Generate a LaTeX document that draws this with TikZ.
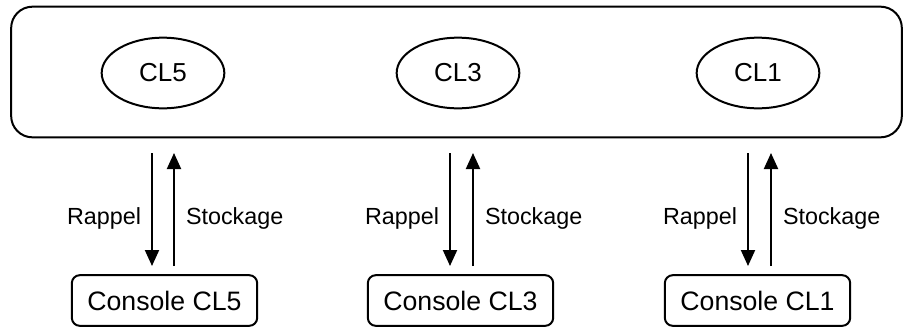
\documentclass[tikz,border=0pt]{standalone}
\usepackage{fontspec}
\setmainfont{Liberation Sans}
\usetikzlibrary{arrows.meta,shapes.geometric}
\begin{document}
\begin{tikzpicture}[x=0.75pt,y=-0.75pt,
  line width=1.5pt,
  outer/.style={draw,rectangle,rounded corners=16pt,minimum width=668pt,minimum height=98pt,inner sep=0pt},
  reg/.style={draw,ellipse,minimum width=92pt,minimum height=53pt,inner sep=0pt,font=\fontsize{19.5}{23}\selectfont},
  cons/.style={draw,rectangle,rounded corners=6pt,minimum width=139pt,minimum height=38pt,inner sep=0pt,font=\fontsize{20}{24}\selectfont},
  lbl/.style={font=\fontsize{17.5}{21}\selectfont,inner sep=0pt},
  arr/.style={-{Triangle[length=12pt,width=10.5pt]},line width=1.5pt}]
\useasboundingbox (0,0) rectangle (904,329);
\node[outer] (main) at (456.5,72) {};
\node[reg] (r5) at (163,73) {CL5};
\node[reg] (r3) at (458,73) {CL3};
\node[reg] (r1) at (758,73) {CL1};
\node[cons] (c5) at (164.5,300.5) {Console CL5};
\node[cons] (c3) at (460.5,300.5) {Console CL3};
\node[cons] (c1) at (757.5,300.5) {Console CL1};
\foreach \n/\d/\u in {5/152/174, 3/450/473, 1/748/771}{
  \coordinate (dt\n) at (\d,153);
  \coordinate (db\n) at (\d,266);
  \coordinate (ut\n) at (\u,153);
  \coordinate (ub\n) at (\u,266);
  \draw[arr] (dt\n) -- (db\n);
  \draw[arr] (ub\n) -- (ut\n);
  \node[lbl,anchor=east] (rl\n) at (\d-10,218) {Rappel};
  \node[lbl,anchor=west] (sl\n) at (\u+11,218) {Stockage};
}
\end{tikzpicture}
\end{document}
